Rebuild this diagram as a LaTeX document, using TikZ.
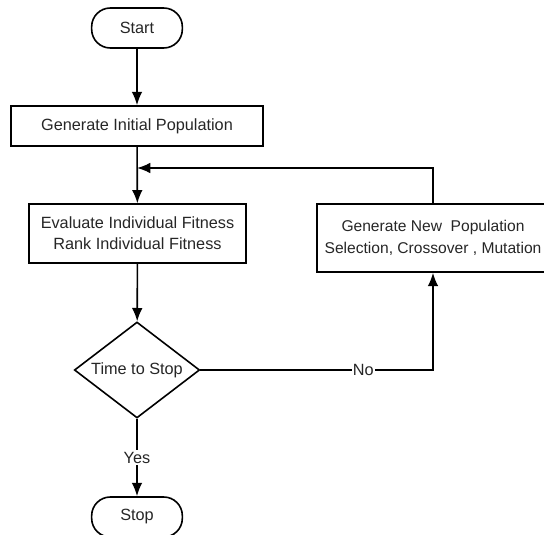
\documentclass[tikz,border=0pt]{standalone}
\usepackage{fontspec}
\setmainfont{Liberation Sans}
\usetikzlibrary{shapes.geometric,arrows.meta}
\tikzstyle{terminal}=[rectangle,rounded corners=14pt,draw=black,line width=1.2pt,minimum width=68pt,minimum height=30pt,font=\fontsize{12.2}{14}\selectfont,text=black!85]
\tikzstyle{process}=[rectangle,draw=black,line width=1.2pt,align=center,font=\fontsize{12.2}{16}\selectfont,text=black!85]
\tikzstyle{decision}=[diamond,draw=black,line width=1.2pt,aspect=1.3,inner sep=0pt,minimum width=94pt,minimum height=72pt,font=\fontsize{12.2}{14}\selectfont,text=black!85]
\tikzstyle{flow}=[line width=1.2pt,-{Latex[length=10pt,width=8pt]}]
\tikzstyle{tag}=[fill=white,inner sep=1pt,font=\fontsize{12.2}{14}\selectfont,text=black!85]

\begin{document}
\begin{tikzpicture}[x=0.75pt,y=-0.75pt]
    \useasboundingbox (0,0) rectangle (544,535);

    \node (start)  at (137,  28)   [terminal] {Start};
    \node (init)   at (137, 126)   [process, minimum width=189pt, minimum height=30pt] {Generate Initial Population};
    \node (eval)   at (137.5, 233.5) [process, minimum width=163pt, minimum height=44pt] {Evaluate Individual Fitness\\Rank Individual Fitness};
    \node (newpop) at (433, 238)   [process, minimum width=174pt, minimum height=51pt, font=\fontsize{11.7}{16}\selectfont] {Generate New\ \ Population\\Selection, Crossover , Mutation};
    \node (check)  at (137, 370)   [decision] {Time to Stop};
    \node (stop)   at (137, 517)   [terminal] {Stop};
    \coordinate (join) at (137, 168);

    \draw (start) -- (init) [flow];
    \draw (init) -- (eval) [flow];
    \draw (eval) -- (check) [flow];
    \draw (check) -- node [tag] {Yes} (stop) [flow];
    \draw (check.east) -| node [tag, pos=0.35] {No} (newpop.south) [flow];
    \draw (newpop.north) |- (join) [flow];
  \end{tikzpicture}
\end{document}
